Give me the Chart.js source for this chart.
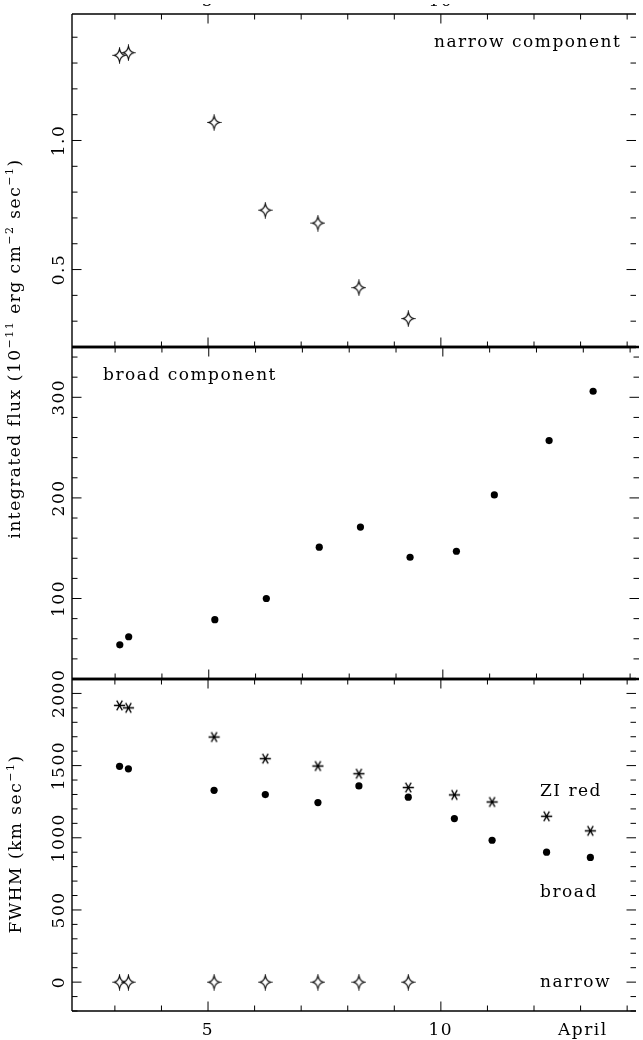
<!DOCTYPE html>
<html>
<head>
<meta charset="utf-8">
<script src="https://cdn.jsdelivr.net/npm/chart.js@4.4.1/dist/chart.umd.min.js"></script>
<style>
    body { margin: 0; background: #fff; }
    #wrap { position: relative; width: 643px; height: 1040px; background: #fff; overflow: hidden; }
    #wrap canvas { position: absolute; left: 0; top: 0; }
</style>
</head>
<body>
<div id="wrap">
    <canvas id="panelTop" width="643" height="1040"></canvas>
    <canvas id="panelMid" width="643" height="1040"></canvas>
    <canvas id="panelBot" width="643" height="1040"></canvas>
</div>
<script>
// epochs of the spectra (day of April)...
var days = [3.10, 3.29, 5.13, 6.23, 7.36, 8.24, 9.30, 10.29, 11.10, 12.27, 13.21];

// integrated flux (10^-11 erg cm^-2 sec^-1)...
var narrowFlux = [1.33, 1.34, 1.07, 0.73, 0.68, 0.43, 0.31];
var broadFlux = [54, 62, 79, 100, 151, 171, 141, 147, 203, 257, 306];

// FWHM (km sec^-1)...
var ziRedFwhm = [1917, 1900, 1698, 1548, 1497, 1444, 1348, 1297, 1248, 1149, 1048];
var broadFwhm = [1495, 1478, 1329, 1299, 1244, 1359, 1281, 1133, 983, 900, 864];
var narrowFwhm = [0, 0, 0, 0, 0, 0, 0];

// ticks and their labels...
var xMajor = [5, 10];
var xMajorLabels = ['5', '10'];
var fluxNarrowMajor = [0.5, 1.0];
var fluxNarrowLabels = ['0.5', '1.0'];
var fluxBroadMajor = [100, 200, 300];
var fluxBroadLabels = ['100', '200', '300'];
var fwhmMajor = [0, 500, 1000, 1500, 2000];
var fwhmLabels = ['0', '500', '1000', '1500', '2000'];

var FONT = '"DejaVu Serif", "Liberation Serif", serif';
var X_MIN = 2.079, X_MAX = 14.19;

var toPoints = function (values) {

    var pts = [];

    for (var i = 0; i < values.length; i++) {
        pts.push({x: days[i], y: values[i]});
    }

    return pts;
};

// hollow four pointed star...
var starMarker = (function () {

    var c = document.createElement('canvas');
    c.width = 15;
    c.height = 17;

    var g = c.getContext('2d');
    var cx = 7.5, cy = 8.5, rx = 5.6, ry = 6.6, k = 0.16;

    g.beginPath();
    g.moveTo(cx, cy - ry);
    g.quadraticCurveTo(cx + rx * k, cy - ry * k, cx + rx, cy);
    g.quadraticCurveTo(cx + rx * k, cy + ry * k, cx, cy + ry);
    g.quadraticCurveTo(cx - rx * k, cy + ry * k, cx - rx, cy);
    g.quadraticCurveTo(cx - rx * k, cy - ry * k, cx, cy - ry);
    g.closePath();
    g.fillStyle = '#fff';
    g.fill();
    g.strokeStyle = '#000';
    g.lineWidth = 1.1;
    g.stroke();

    return c;
})();

// six armed asterisk, one arm pair horizontal...
var asteriskMarker = (function () {

    var c = document.createElement('canvas');
    c.width = 13;
    c.height = 13;

    var g = c.getContext('2d');
    var cx = 6.5, cy = 6.5, r = 5.6;

    g.strokeStyle = '#000';
    g.lineWidth = 1.3;
    g.beginPath();

    for (var a = 0; a < 3; a++) {
        var t = a * Math.PI / 3;
        g.moveTo(cx - r * Math.cos(t), cy - r * Math.sin(t));
        g.lineTo(cx + r * Math.cos(t), cy + r * Math.sin(t));
    }

    g.stroke();

    return c;
})();

var line = function (ctx, x1, y1, x2, y2, w) {

    ctx.lineWidth = w;
    ctx.beginPath();
    ctx.moveTo(x1, y1);
    ctx.lineTo(x2, y2);
    ctx.stroke();
};

// text with superscripts, optionally rotated to read bottom to top...
var richText = function (ctx, parts, x, y, rotated) {

    var big = '17px ' + FONT, small = '11px ' + FONT;
    var total = 0;

    ctx.letterSpacing = '1.5px';

    for (var i = 0; i < parts.length; i++) {
        ctx.font = parts[i][1] ? small : big;
        total += ctx.measureText(parts[i][0]).width;
    }

    ctx.save();
    ctx.translate(x, y);

    if (rotated) {
        ctx.rotate(-Math.PI / 2);
    }

    ctx.textAlign = 'left';
    ctx.textBaseline = 'alphabetic';

    var pos = -total / 2;

    for (var i = 0; i < parts.length; i++) {
        ctx.font = parts[i][1] ? small : big;
        ctx.fillText(parts[i][0], pos, parts[i][1] ? -7 : 0);
        pos += ctx.measureText(parts[i][0]).width;
    }

    ctx.restore();
};

var framePlugin = {
    id: 'frame',
    afterDraw: function (chart, args, opts) {

        var ctx = chart.ctx;
        var a = chart.chartArea;
        var xs = chart.scales.x;
        var ys = chart.scales.y;

        ctx.save();
        ctx.strokeStyle = '#000';
        ctx.fillStyle = '#000';

        // box, the right edge falls off the picture...
        line(ctx, a.left, a.top, a.left, a.bottom, 1.4);
        line(ctx, a.left, a.top, a.right, a.top, opts.topWidth);
        line(ctx, a.left, a.bottom, a.right, a.bottom, opts.bottomWidth);

        // day ticks on bottom and top...
        for (var d = Math.ceil(xs.min); d <= xs.max; d++) {
            var px = xs.getPixelForValue(d);
            var len = xMajor.indexOf(d) >= 0 ? 9.5 : 5.5;

            line(ctx, px, a.bottom, px, a.bottom - len, 1);
            line(ctx, px, a.top, px, a.top + len, 1);
        }

        // y ticks on both sides...
        var step = opts.minorStep;
        var k0 = Math.ceil(ys.min / step - 1e-6);
        var k1 = Math.floor(ys.max / step + 1e-6);

        for (var k = k0; k <= k1; k++) {
            var v = k * step;
            var py = ys.getPixelForValue(v);
            var major = false;

            for (var m = 0; m < opts.yMajor.length; m++) {
                if (Math.abs(opts.yMajor[m] - v) < step / 10) {
                    major = true;
                }
            }

            var ylen = major ? 9.5 : 5.5;

            line(ctx, a.left, py, a.left + ylen, py, 1);
            line(ctx, a.right, py, a.right - ylen, py, 1);
        }

        ctx.letterSpacing = '1.5px';
        ctx.font = '17px ' + FONT;
        ctx.textAlign = 'center';
        ctx.textBaseline = 'alphabetic';

        // y tick labels, rotated like the original...
        for (var j = 0; j < opts.yMajor.length; j++) {
            ctx.save();
            ctx.translate(a.left - 8.5, ys.getPixelForValue(opts.yMajor[j]));
            ctx.rotate(-Math.PI / 2);
            ctx.fillText(opts.yLabels[j], 0, 0);
            ctx.restore();
        }

        // day labels only under the last panel...
        if (opts.xLabels) {
            for (var n = 0; n < xMajor.length; n++) {
                ctx.fillText(xMajorLabels[n], xs.getPixelForValue(xMajor[n]), a.bottom + 23.5);
            }

            ctx.fillText('April', xs.getPixelForValue(13.05), a.bottom + 23.5);
        }

        // feet of the labels of a panel above, cut by the picture edge...
        if (opts.cutLabels) {
            ctx.save();
            ctx.beginPath();
            ctx.rect(0, 4, chart.width, 2);
            ctx.clip();

            for (var n = 0; n < xMajor.length; n++) {
                ctx.fillText(xMajorLabels[n], xs.getPixelForValue(xMajor[n]), 6);
            }

            ctx.restore();
        }

        ctx.textAlign = 'left';

        for (var t = 0; t < opts.notes.length; t++) {
            ctx.fillText(opts.notes[t][0], opts.notes[t][1], opts.notes[t][2]);
        }

        if (opts.title) {
            richText(ctx, opts.title, opts.titleX, opts.titleY, true);
        }

        ctx.restore();
    }
};

var makePanel = function (id, datasets, yMin, yMax, padTop, padBottom, frame) {

    return new Chart(document.getElementById(id), {
        type: 'scatter',
        data: {datasets: datasets},
        options: {
            responsive: false,
            maintainAspectRatio: false,
            animation: false,
            events: [],
            layout: {padding: {left: 72, right: 0, top: padTop, bottom: padBottom}},
            scales: {
                x: {type: 'linear', display: false, min: X_MIN, max: X_MAX},
                y: {type: 'linear', display: false, min: yMin, max: yMax}
            },
            plugins: {
                legend: {display: false},
                tooltip: {enabled: false},
                frame: frame
            }
        },
        plugins: [framePlugin]
    });
};

var starSet = function (values) {
    return {data: toPoints(values), pointStyle: starMarker, pointRadius: 6, clip: false};
};

var dotSet = function (values) {
    return {data: toPoints(values), pointStyle: 'circle', pointRadius: 3.6,
        backgroundColor: '#000', borderColor: '#000', borderWidth: 0, clip: false};
};

var asteriskSet = function (values) {
    return {data: toPoints(values), pointStyle: asteriskMarker, pointRadius: 6, clip: false};
};

makePanel('panelTop', [starSet(narrowFlux)], 0.2, 1.49, 14, 693, {
    topWidth: 1.4,
    bottomWidth: 2.6,
    minorStep: 0.1,
    yMajor: fluxNarrowMajor,
    yLabels: fluxNarrowLabels,
    cutLabels: true,
    notes: [['narrow component', 434, 46.5]],
    title: [['integrated flux (10', 0], ['\u221211', 1], [' erg cm', 0], ['\u22122', 1], [' sec', 0], ['\u22121', 1], [')', 0]],
    titleX: 20,
    titleY: 348.5
});

makePanel('panelMid', [dotSet(broadFlux)], 20, 350, 347, 361, {
    topWidth: 2.6,
    bottomWidth: 2.6,
    minorStep: 20,
    yMajor: fluxBroadMajor,
    yLabels: fluxBroadLabels,
    notes: [['broad component', 103, 380]]
});

makePanel('panelBot', [asteriskSet(ziRedFwhm), dotSet(broadFwhm), starSet(narrowFwhm)], -200, 2100, 679, 29, {
    topWidth: 2.6,
    bottomWidth: 1.4,
    minorStep: 100,
    yMajor: fwhmMajor,
    yLabels: fwhmLabels,
    xLabels: true,
    notes: [['ZI red', 540, 796], ['broad', 540, 896.5], ['narrow', 540, 986.5]],
    title: [['FWHM (km sec', 0], ['\u22121', 1], [')', 0]],
    titleX: 21,
    titleY: 844
});
</script>
</body>
</html>
